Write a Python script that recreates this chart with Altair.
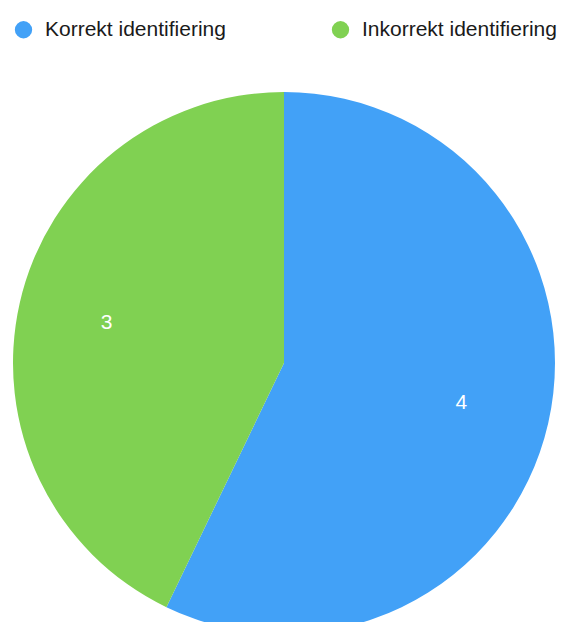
import altair as alt
import pandas as pd

categories = ["Korrekt identifiering", "Inkorrekt identifiering"]
counts = [4, 3]
colors = ["#42A1F7", "#80D152"]

df = pd.DataFrame({"kategori": categories, "antal": counts, "ordning": [0, 1]})

color = alt.Color(
    "kategori:N",
    scale=alt.Scale(domain=categories, range=colors),
    legend=alt.Legend(
        title=None,
        orient="none",
        direction="horizontal",
        legendX=5,
        legendY=11,
        padding=0,
        symbolType="circle",
        symbolSize=300,
        symbolStrokeWidth=0,
        labelFontSize=21,
        labelFont="Liberation Sans",
        labelColor="#1a1a1a",
        labelOffset=11,
        columnPadding=104,
        labelLimit=300,
    ),
)

base = alt.Chart(df).encode(
    theta=alt.Theta("antal:Q", stack=True),
    order=alt.Order("ordning:Q"),
    x=alt.value(276),
    y=alt.value(355),
)

arcs = base.mark_arc(radius=271, stroke=None).encode(color=color)
labels = base.mark_text(
    radius=182, fontSize=21, font="Liberation Sans", color="white"
).encode(text="antal:Q")

chart = (
    alt.layer(arcs, labels)
    .properties(
        width=550,
        height=614,
        autosize=alt.AutoSizeParams(type="none"),
        padding=0,
    )
    .configure_view(stroke=None)
)

chart.save("out.html", embed_options={"renderer": "svg", "actions": False})
